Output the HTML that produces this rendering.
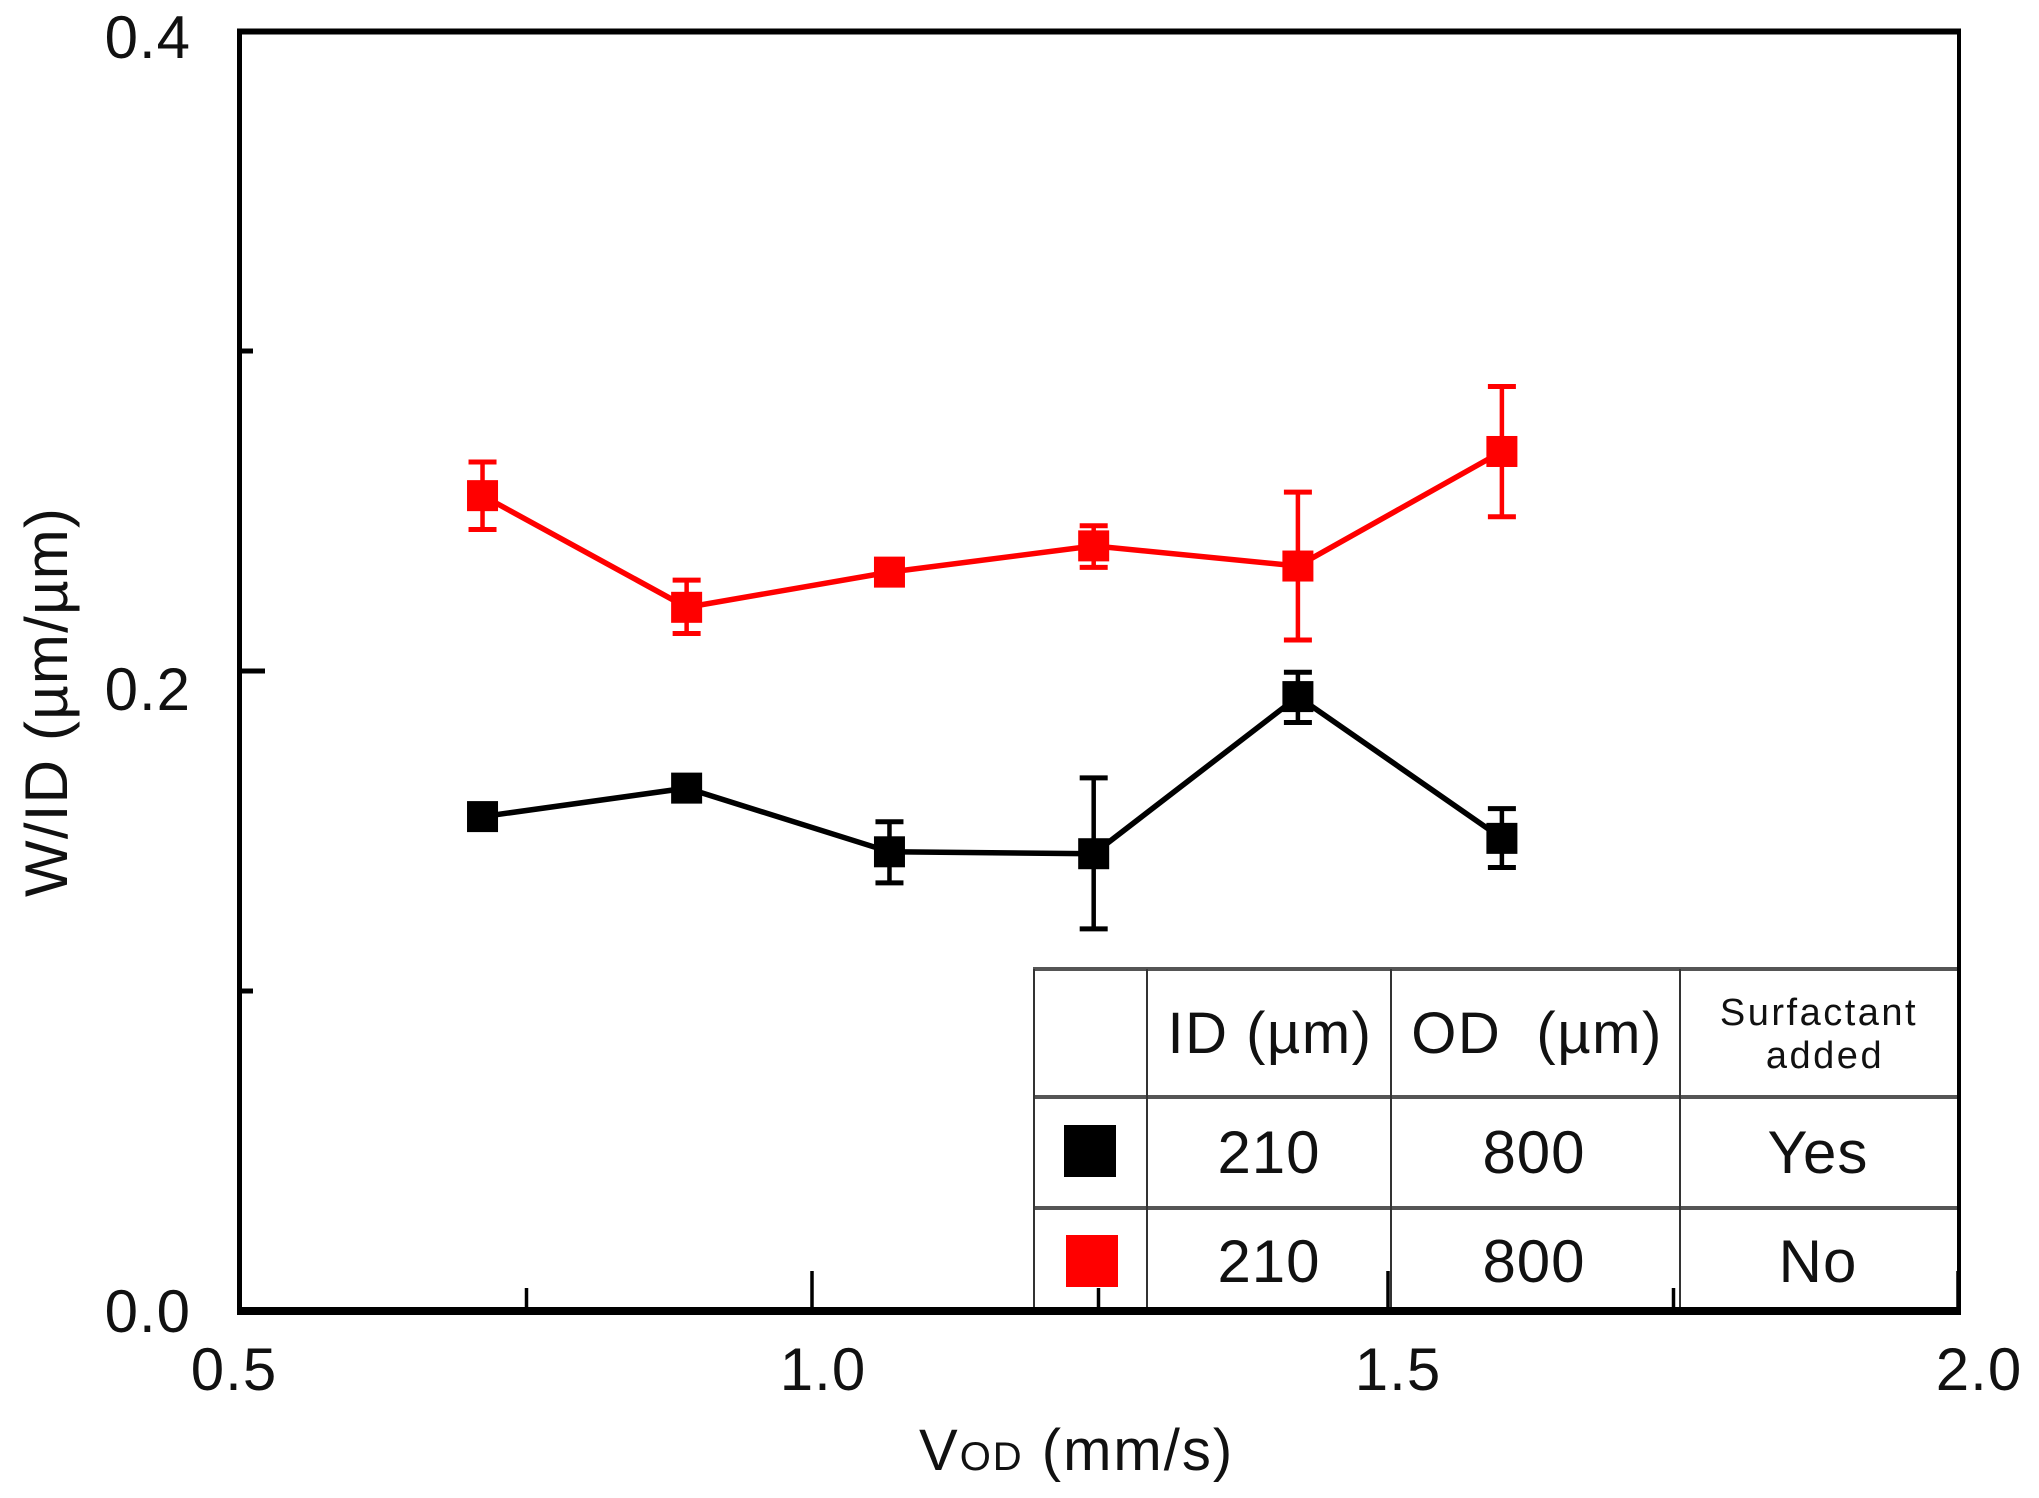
<!DOCTYPE html>
<html>
<head>
<meta charset="utf-8">
<title>W/ID versus VOD</title>
<style>
html,body{margin:0;padding:0;background:#fff;}
svg{display:block;}
text{font-family:"Liberation Sans",sans-serif;fill:#111;}
</style>
</head>
<body>
<svg id="chart" xmlns="http://www.w3.org/2000/svg" width="2039" height="1498" viewBox="0 0 2039 1498">
  <rect x="0" y="0" width="2039" height="1498" fill="#fff"/>

  <g id="legend-table">
    <rect x="1034" y="969" width="925" height="342" fill="#fff"/>
    <line x1="1033" y1="969" x2="1959" y2="969" stroke="#555" stroke-width="4"/>
    <line x1="1033" y1="1097" x2="1959" y2="1097" stroke="#555" stroke-width="4"/>
    <line x1="1033" y1="1208" x2="1959" y2="1208" stroke="#555" stroke-width="4"/>
    <line x1="1034" y1="969" x2="1034" y2="1311" stroke="#333" stroke-width="2"/>
    <line x1="1147" y1="969" x2="1147" y2="1311" stroke="#333" stroke-width="2"/>
    <line x1="1391" y1="969" x2="1391" y2="1311" stroke="#333" stroke-width="2"/>
    <line x1="1680" y1="969" x2="1680" y2="1311" stroke="#333" stroke-width="2"/>

    <text x="1270" y="1053" font-size="58" text-anchor="middle" letter-spacing="1.5">ID (µm)</text>
    <text x="1537" y="1053" font-size="58" text-anchor="middle" letter-spacing="1.5" xml:space="preserve">OD  (µm)</text>
    <text x="1819" y="1025" font-size="38" text-anchor="middle" letter-spacing="2.5">Surfactant</text>
    <text x="1825" y="1068" font-size="38" text-anchor="middle" letter-spacing="2.5">added</text>

    <rect x="1064" y="1125" width="52" height="52" fill="#000"/>
    <text x="1269" y="1173" font-size="60" text-anchor="middle" letter-spacing="1">210</text>
    <text x="1534" y="1173" font-size="60" text-anchor="middle" letter-spacing="1">800</text>
    <text x="1818" y="1173" font-size="60" text-anchor="middle" letter-spacing="1">Yes</text>

    <rect x="1066" y="1235" width="52" height="52" fill="#f00"/>
    <text x="1269" y="1282" font-size="60" text-anchor="middle" letter-spacing="1">210</text>
    <text x="1534" y="1282" font-size="60" text-anchor="middle" letter-spacing="1">800</text>
    <text x="1818" y="1282" font-size="60" text-anchor="middle" letter-spacing="1">No</text>
  </g>

  <g id="ticks"></g>
  <g id="series"></g>

  <g id="frame">
    <line x1="237" y1="31.5" x2="1961" y2="31.5" stroke="#000" stroke-width="6"/>
    <line x1="239.5" y1="29" x2="239.5" y2="1314" stroke="#000" stroke-width="5"/>
    <line x1="1959" y1="29" x2="1959" y2="1314" stroke="#000" stroke-width="4"/>
    <line x1="237" y1="1311" x2="1961" y2="1311" stroke="#000" stroke-width="8"/>
  </g>

  <g id="labels"></g>

  <text x="919" y="1470" font-size="58" letter-spacing="2">V<tspan font-size="40">OD</tspan> (mm/s)</text>
  <text transform="translate(67,897) rotate(-90)" x="0" y="0" font-size="60" letter-spacing="1.2">W/ID (µm/µm)</text>
</svg>

<script>
const xMajorTicks = [0.5, 1.0, 1.5, 2.0];
const xMinorTicks = [0.75, 1.25, 1.75];
const xTickLabels = ['0.5', '1.0', '1.5', '2.0'];
const yMajorTicks = [0.0, 0.2, 0.4];
const yMinorTicks = [0.1, 0.3];
const yTickLabels = ['0.0', '0.2', '0.4'];

const vod = [0.7125, 0.8906, 1.0676, 1.2458, 1.424, 1.602];

const blackValues = [0.1545, 0.1634, 0.1435, 0.1429, 0.192, 0.1477];
const blackUpper = [0.1565, 0.1654, 0.1529, 0.1666, 0.1996, 0.157];
const blackLower = [0.1525, 0.1614, 0.1338, 0.1194, 0.1839, 0.1386];

const redValues = [0.2548, 0.2199, 0.2309, 0.2391, 0.2328, 0.2686];
const redUpper = [0.2653, 0.2284, 0.2329, 0.2454, 0.2559, 0.2889];
const redLower = [0.2442, 0.2117, 0.2289, 0.2324, 0.2097, 0.2482];

const NS = 'http://www.w3.org/2000/svg';

function xScale(v) { return 239 + (v - 0.5) * 1146; }
function yScale(v) { return 1311 - v * 3200; }

function make(tag, attrs, parent) {
  const el = document.createElementNS(NS, tag);
  for (const k in attrs) el.setAttribute(k, attrs[k]);
  parent.appendChild(el);
  return el;
}

const ticksG = document.getElementById('ticks');
const labelsG = document.getElementById('labels');
const seriesG = document.getElementById('series');

/* Hand-placed offsets seen in the reference, relative to the tick */
const xLabelNudge = { '0.5': -5, '1.0': 11, '1.5': 13, '2.0': 21 };
const yLabelNudge = { '0.0': 21, '0.2': 39, '0.4': 27 };
function xTickNudge(v) { return v === 1.5 ? 3 : (v === 1.75 ? 2 : (v === 0.75 ? 1 : 0)); }

xMajorTicks.forEach(function (v, i) {
  const tx = xScale(v) + xTickNudge(v);
  const t = make('line', { x1: tx, x2: tx, y1: 1311, y2: 1271, stroke: '#000', 'stroke-width': 3.5 }, ticksG);
  
  
  const s = xTickLabels[i];
  const l = make('text', { x: xScale(v) + xLabelNudge[s], y: 1390, 'font-size': 60, 'text-anchor': 'middle', 'letter-spacing': 1 }, labelsG);
  l.textContent = s;
  
  
});

xMinorTicks.forEach(function (v) {
  const tx = xScale(v) + xTickNudge(v);
  const t = make('line', { x1: tx, x2: tx, y1: 1311, y2: 1288, stroke: '#000', 'stroke-width': 3.5 }, ticksG);
  
  
});

yMajorTicks.forEach(function (v, i) {
  const t = make('line', { x1: 239, x2: 265, y1: yScale(v), y2: yScale(v), stroke: '#000', 'stroke-width': 5 }, ticksG);
  
  
  const s = yTickLabels[i];
  const l = make('text', { x: 191, y: yScale(v) + yLabelNudge[s], 'font-size': 60, 'text-anchor': 'end', 'letter-spacing': 1 }, labelsG);
  l.textContent = s;
  
  
});

yMinorTicks.forEach(function (v) {
  const t = make('line', { x1: 239, x2: 253, y1: yScale(v), y2: yScale(v), stroke: '#000', 'stroke-width': 5 }, ticksG);
  
  
});

function drawSeries(name, color, values, upper, lower) {
  const g = make('g', {}, seriesG);
  
  

  const pts = values.map(function (v, i) { return xScale(vod[i]) + ',' + yScale(v); }).join(' ');
  const line = make('polyline', { points: pts, fill: 'none', stroke: color, 'stroke-width': 5.5 }, g);
  
  

  values.forEach(function (v, i) {
    const cx = xScale(vod[i]);

    const stem = make('line', { x1: cx, x2: cx, y1: yScale(upper[i]), y2: yScale(lower[i]), stroke: color, 'stroke-width': 4.5 }, g);
    
    

    const capTop = make('line', { x1: cx - 14, x2: cx + 14, y1: yScale(upper[i]), y2: yScale(upper[i]), stroke: color, 'stroke-width': 5 }, g);
    
    

    const capBottom = make('line', { x1: cx - 14, x2: cx + 14, y1: yScale(lower[i]), y2: yScale(lower[i]), stroke: color, 'stroke-width': 5 }, g);
    
    

    const marker = make('rect', { x: cx - 15.5, y: yScale(v) - 15.5, width: 31, height: 31, fill: color }, g);
    
    
  });
}

drawSeries('red', '#f00', redValues, redUpper, redLower);
drawSeries('black', '#000', blackValues, blackUpper, blackLower);
</script>
</body>
</html>
